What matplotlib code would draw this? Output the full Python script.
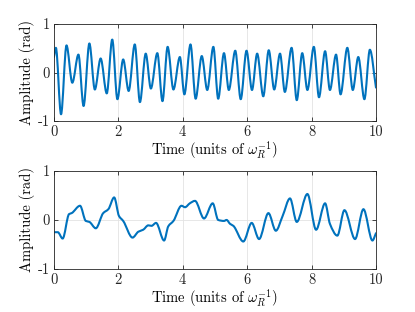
import numpy as np
import matplotlib
matplotlib.use('Agg')
import matplotlib.pyplot as plt
from matplotlib.path import Path
from matplotlib.patches import PathPatch

# turning points (time, amplitude)
t_top = [0.00, 0.06, 0.22, 0.39, 0.57, 0.76, 0.92, 1.10, 1.27, 1.45, 1.64, 1.81, 1.97,
         2.15, 2.32, 2.51, 2.67, 2.85, 3.01, 3.21, 3.37, 3.53, 3.71, 3.91, 4.05, 4.24,
         4.40, 4.59, 4.76, 4.95, 5.10, 5.28, 5.43, 5.63, 5.80, 5.98, 6.15, 6.31, 6.50,
         6.67, 6.84, 7.02, 7.17, 7.38, 7.54, 7.71, 7.87, 8.07, 8.23, 8.42, 8.57, 8.76,
         8.90, 9.11, 9.28, 9.45, 9.64, 9.81, 10.00]
a_top = [0.32, 0.51, -0.86, 0.56, -0.21, 0.37, -0.69, 0.60, -0.35, 0.29, -0.43, 0.68, -0.55,
         0.27, -0.38, 0.58, -0.61, 0.39, -0.33, 0.40, -0.59, 0.53, -0.35, 0.32, -0.45, 0.58,
         -0.54, 0.34, -0.36, 0.53, -0.54, 0.40, -0.36, 0.45, -0.55, 0.45, -0.36, 0.39, -0.49,
         0.46, -0.35, 0.39, -0.40, 0.51, -0.57, 0.40, -0.36, 0.53, -0.51, 0.44, -0.36, 0.37,
         -0.45, 0.51, -0.36, 0.32, -0.55, 0.47, -0.31]

t_bot = [0.00, 0.12, 0.27, 0.47, 0.55, 0.81, 0.99, 1.10, 1.30, 1.53, 1.69, 1.87, 2.02,
         2.15, 2.44, 2.62, 2.77, 2.93, 3.03, 3.17, 3.42, 3.55, 3.71, 3.96, 4.07, 4.22,
         4.38, 4.66, 4.93, 5.10, 5.28, 5.36, 5.47, 5.57, 5.88, 6.14, 6.37, 6.66, 6.89,
         7.10, 7.33, 7.54, 7.87, 8.14, 8.42, 8.57, 8.80, 9.02, 9.35, 9.61, 9.89, 10.00]
a_bot = [-0.25, -0.25, -0.38, 0.12, 0.14, 0.29, -0.02, -0.04, -0.17, 0.14, 0.22, 0.46, 0.08,
         -0.02, -0.36, -0.24, -0.20, -0.11, -0.12, -0.06, -0.42, -0.13, -0.02, 0.29, 0.26, 0.34,
         0.39, 0.03, 0.34, 0.00, -0.02, 0.00, -0.08, -0.12, -0.44, -0.06, -0.39, 0.14, -0.22,
         0.08, 0.44, -0.04, 0.53, -0.20, 0.34, -0.08, -0.32, 0.20, -0.39, 0.22, -0.42, -0.27]

x_ticks = [0, 2, 4, 6, 8, 10]
y_ticks = [-1, 0, 1]

plt.rcParams['font.family'] = 'serif'
plt.rcParams['font.serif'] = ['cmr10']
plt.rcParams['mathtext.fontset'] = 'cm'
plt.rcParams['axes.unicode_minus'] = False
plt.rcParams['axes.formatter.use_mathtext'] = True


def smooth_path(t, a):
    # shape preserving cubic (pchip style slopes), drawn as bezier segments
    t = np.asarray(t, float)
    a = np.asarray(a, float)
    h = np.diff(t)
    d = np.diff(a) / h
    m = np.zeros_like(a)
    for k in range(1, len(a) - 1):
        if d[k - 1] * d[k] > 0:
            w1 = 2 * h[k] + h[k - 1]
            w2 = h[k] + 2 * h[k - 1]
            m[k] = (w1 + w2) / (w1 / d[k - 1] + w2 / d[k])
    m[0] = d[0]
    m[-1] = d[-1]
    verts = [(t[0], a[0])]
    codes = [Path.MOVETO]
    for k in range(len(h)):
        verts += [(t[k] + h[k] / 3, a[k] + m[k] * h[k] / 3),
                  (t[k + 1] - h[k] / 3, a[k + 1] - m[k + 1] * h[k] / 3),
                  (t[k + 1], a[k + 1])]
        codes += [Path.CURVE4] * 3
    return Path(verts, codes)


fig = plt.figure(figsize=(4.15, 3.12), dpi=100)
ax1 = fig.add_axes([0.130, 0.612, 0.776, 0.311])
ax2 = fig.add_axes([0.130, 0.138, 0.776, 0.314])

for ax, t, a in [(ax1, t_top, a_top), (ax2, t_bot, a_bot)]:
    ax.add_patch(PathPatch(smooth_path(t, a), fill=False, edgecolor='#0072BD',
                           linewidth=1.5, capstyle='round', joinstyle='round'))
    ax.set_xlim(0, 10)
    ax.set_ylim(-1, 1)
    ax.set_xticks(x_ticks)
    ax.set_yticks(y_ticks)
    ax.set_xticklabels([str(v) for v in x_ticks])
    ax.set_yticklabels([str(v) for v in y_ticks])
    ax.grid(True, color='#e3e3e3', linewidth=0.6)
    ax.set_axisbelow(True)
    for s in ax.spines.values():
        s.set_color('#262626')
        s.set_linewidth(0.6)
    ax.tick_params(direction='in', length=3, width=0.6, color='#262626',
                   top=True, right=True, labelsize=10.5, labelcolor='#262626', pad=3)
    ax.set_xlabel(r'Time (units of $\omega_R^{-1}$)', fontsize=10.5, labelpad=1)
    ax.set_ylabel('Amplitude (rad)', fontsize=10.5, labelpad=2)

fig.savefig('out.png', dpi=100)
